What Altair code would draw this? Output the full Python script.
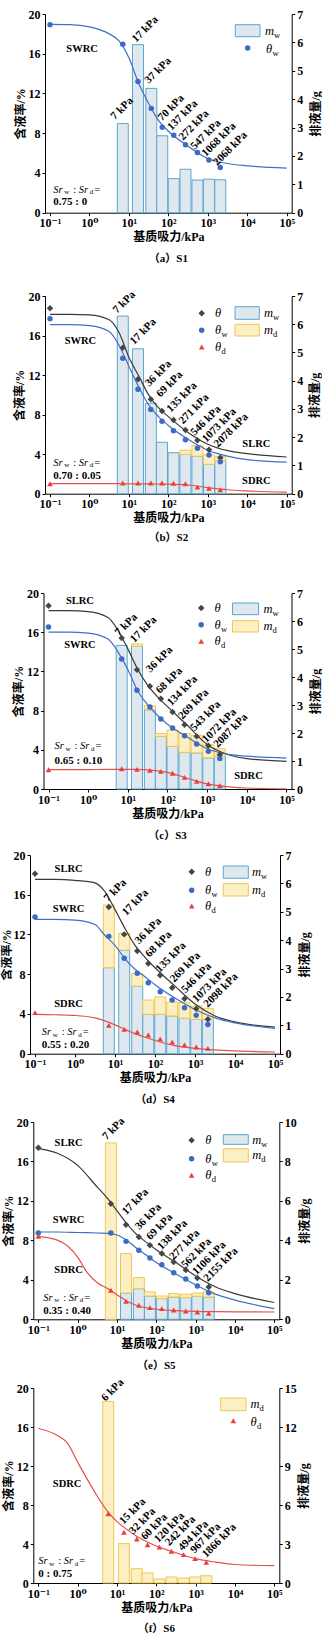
import altair as alt
import pandas as pd

SERIF = "Liberation Serif, DejaVu Serif, Noto Sans CJK SC"

C_THETA = "#454545"
C_W = "#3a6cc6"
C_D = "#e8403b"
CC_THETA = "#3a3a3a"
CC_W = "#3f70c4"
CC_D = "#e5504c"
W_FILL, W_STROKE = "#dfe8ee", "#5aa7d0"
D_FILL, D_STROKE = "#fcefc4", "#efc851"

X_TICKS = [0.1, 1, 10, 100, 1000, 10000, 100000]
X_LABEL_EXPR = ("datum.value < 0.5 ? '10⁻¹' : datum.value < 5 ? '10⁰' : datum.value < 50 ? '10¹' : "
                "datum.value < 500 ? '10²' : datum.value < 5000 ? '10³' : datum.value < 50000 ? '10⁴' : '10⁵'")

# ------------------------------------------------------------------ data
CURVE_X = [0.1, 0.316, 1, 3.16, 5.62, 10, 17.8, 31.6, 56.2, 100, 316, 1000, 3160, 10000, 100000]
CURVE_X2 = [0.1, 0.316, 0.562, 1, 1.78, 3.16, 5.62, 10, 17.8, 31.6, 100, 316, 1000, 3160, 10000, 100000]

# (a) S1
s1_x = [0.1, 7, 17, 37, 70, 137, 272, 547, 1068, 2068]
s1_theta_w = [18.93, 16.95, 13.2, 10.5, 8.6, 7.8, 6.85, 6.07, 5.3, 4.56]
s1_bar_x = [7, 17, 37, 70, 137, 272, 547, 1068, 2068]
s1_m_w = [3.14, 5.92, 4.38, 2.71, 1.20, 1.53, 1.15, 1.18, 1.16]
s1_m_d = [0, 0, 0, 0, 0, 0, 0, 0, 0]
s1_lab_t = ["7 kPa", "17 kPa", "37 kPa", "70 kPa", "137 kPa", "272 kPa", "547 kPa", "1068 kPa", "2068 kPa"]
s1_lab_x = [4.4, 15.2, 32, 69, 120, 234, 468, 890, 1740]
s1_lab_y = [9.33, 17.1, 12.95, 9.2, 8.25, 7.25, 6.3, 5.6, 4.7]
s1_swrc = [18.95, 18.93, 18.7, 18.0, 17.3, 15.6, 13.0, 11.0, 9.3, 8.2, 6.7, 5.45, 4.95, 4.72, 4.48]

# (b) S2
s2_x = [0.1, 7, 17, 36, 69, 135, 271, 546, 1073, 2078]
s2_theta = [18.75, 14.77, 11.57, 9.55, 8.36, 7.45, 6.44, 5.40, 4.45, 3.64]
s2_theta_w = [17.7, 13.7, 10.56, 8.53, 7.32, 6.37, 5.46, 4.59, 3.91, 3.24]
s2_theta_d = [1.0, 1.08, 1.08, 1.08, 1.08, 1.05, 1.0, 0.67, 0.54, 0.40]
s2_bar_x = [7, 17, 36, 69, 135, 271, 546, 1073, 2078]
s2_m_w = [6.29, 5.13, 3.20, 1.82, 1.45, 1.39, 1.33, 1.04, 1.18]
s2_m_d = [0, 0, 0, 0, 0, 0.15, 0.38, 0.33, 0.14]
s2_lab_t = ["7 kPa", "17 kPa", "36 kPa", "69 kPa", "135 kPa", "271 kPa", "546 kPa", "1073 kPa", "2078 kPa"]
s2_lab_x = [5.0, 13.5, 32.7, 63, 115, 234, 468, 910, 1820]
s2_lab_y = [18.2, 15.04, 10.79, 9.71, 8.2, 7.0, 5.83, 5.16, 4.65]
s2_slrc = [18.15, 18.15, 18.1, 17.6, 16.3, 13.8, 11.9, 10.0, 8.7, 7.8, 6.2, 5.0, 4.35, 4.05, 3.71]
s2_swrc = [17.1, 17.1, 17.0, 16.4, 15.0, 12.9, 10.8, 9.0, 7.8, 6.9, 5.5, 4.4, 3.8, 3.45, 3.2]
s2_sdrc = [1.02, 1.02, 1.02, 1.02, 1.01, 1.0, 1.0, 0.99, 0.98, 0.97, 0.88, 0.62, 0.4, 0.28, 0.15]

# (c) S3
s3_x = [0.1, 7, 17, 36, 68, 134, 269, 543, 1072, 2087]
s3_theta = [18.7, 15.4, 12.18, 10.48, 9.22, 7.86, 6.56, 5.37, 4.42, 3.50]
s3_theta_w = [16.53, 13.27, 10.07, 8.37, 7.14, 6.22, 5.44, 4.59, 3.84, 3.10]
s3_theta_d = [1.97, 2.07, 2.0, 1.9, 1.8, 1.6, 1.19, 0.78, 0.54, 0.34]
s3_bar_x = [7, 17, 36, 68, 134, 269, 543, 1072, 2087]
s3_m_w = [5.13, 5.10, 2.83, 1.88, 1.52, 1.31, 1.29, 1.11, 1.17]
s3_m_d = [0, 0.08, 0.15, 0.10, 0.58, 0.67, 0.63, 0.47, 0.27]
s3_lab_t = ["7 kPa", "17 kPa", "36 kPa", "68 kPa", "134 kPa", "269 kPa", "543 kPa", "1072 kPa", "2087 kPa"]
s3_lab_x = [6.0, 14.6, 37, 65, 124, 238, 482, 955, 1840]
s3_lab_y = [15.58, 14.9, 11.84, 9.69, 8.44, 7.07, 5.88, 4.69, 4.18]
s3_slrc = [18.2, 18.2, 18.1, 17.5, 16.2, 14.3, 12.2, 10.6, 9.4, 8.4, 6.5, 4.55, 3.55, 3.1, 2.82]
s3_swrc = [16.0, 16.0, 15.9, 15.3, 14.0, 12.2, 10.0, 8.6, 7.5, 6.6, 5.3, 4.1, 3.55, 3.35, 3.15]
s3_sdrc = [1.97, 1.97, 1.98, 2.0, 2.0, 2.0, 2.0, 1.95, 1.85, 1.7, 1.1, 0.52, 0.25, 0.1, 0.02]

# (d) S4
s4_x = [0.1, 7, 17, 36, 68, 135, 269, 546, 1073, 2098]
s4_theta = [18.12, 14.77, 12.01, 10.34, 9.09, 7.89, 6.64, 5.54, 4.53, 3.46]
s4_theta_w = [13.76, 11.81, 9.6, 8.09, 7.15, 6.24, 5.40, 4.63, 3.86, 2.95]
s4_theta_d = [4.13, 2.85, 2.45, 2.18, 1.88, 1.48, 1.17, 0.87, 0.67, 0.54]
s4_bar_x = [7, 17, 36, 68, 135, 269, 546, 1073, 2098]
s4_m_w = [3.03, 3.65, 2.38, 1.39, 1.39, 1.33, 1.25, 1.21, 1.21]
s4_m_d = [2.21, 0.59, 0.45, 0.50, 0.61, 0.49, 0.55, 0.47, 0.39]
s4_lab_t = ["7 kPa", "17 kPa", "36 kPa", "68 kPa", "135 kPa", "269 kPa", "546 kPa", "1073 kPa", "2098 kPa"]
s4_lab_x = [6.7, 19, 40, 73, 132, 302, 575, 1096, 2090]
s4_lab_y = [15.27, 13.86, 11.0, 9.66, 8.15, 7.15, 6.07, 5.13, 4.63]
s4_slrc = [17.55, 17.55, 17.45, 17.2, 16.3, 14.5, 12.6, 10.9, 9.7, 8.65, 6.8, 5.0, 3.8, 3.2, 2.68]
s4_swrc = [13.52, 13.52, 13.45, 13.0, 11.9, 10.9, 9.55, 8.5, 7.75, 6.95, 5.6, 4.45, 3.6, 3.1, 2.55]
s4_sdrc = [3.95, 3.92, 3.85, 3.6, 3.3, 2.9, 2.45, 2.02, 1.65, 1.33, 0.82, 0.54, 0.38, 0.28, 0.17]

# (e) S5
s5_x = [0.1, 7, 17, 36, 69, 138, 277, 562, 1106, 2155]
s5_theta = [17.4, 11.72, 9.59, 8.34, 7.5, 6.66, 5.81, 5.0, 4.19, 3.28]
s5_theta_w = [8.75, 8.75, 7.9, 6.99, 6.22, 5.54, 4.73, 4.09, 3.38, 2.70]
s5_theta_d = [8.41, 2.94, 1.82, 1.42, 1.18, 1.08, 0.95, 0.84, 0.74, 0.61]
s5_bar_x = [7, 17, 36, 69, 138, 277, 562, 1106, 2155]
s5_m_w = [0, 1.33, 1.55, 1.18, 1.05, 1.13, 1.10, 1.17, 1.13]
s5_m_d = [8.94, 2.0, 0.56, 0.21, 0.13, 0.17, 0.17, 0.16, 0.26]
s5_lab_t = ["7 kPa", "17 kPa", "36 kPa", "69 kPa", "138 kPa", "277 kPa", "562 kPa", "1106 kPa", "2155 kPa"]
s5_lab_x = [5.4, 17.2, 36.6, 71, 135, 275, 550, 1050, 2040]
s5_lab_y = [18.14, 10.54, 9.02, 8.0, 6.99, 5.98, 5.14, 4.46, 3.78]
s5_slrc = [17.3, 16.8, 15.6, 13.4, 12.3, 11.0, 9.7, 8.6, 7.8, 7.05, 5.75, 4.4, 3.3, 2.6, 1.7]
s5_swrc = [8.85, 8.85, 8.8, 8.75, 8.72, 8.55, 8.0, 7.2, 6.5, 5.75, 4.6, 3.5, 2.55, 1.95, 1.08]
s5_sdrc = [8.41, 8.0, 7.4, 6.3, 4.7, 3.7, 3.15, 2.5, 1.85, 1.4, 1.02, 0.88, 0.8, 0.77, 0.76, 0.74]

# (f) S6
s6_x = [6, 15, 32, 60, 120, 242, 494, 967, 1866]
s6_theta_d = [7.11, 5.2, 4.51, 3.93, 3.69, 3.25, 2.91, 2.50, 2.12]
s6_bar_x = [6, 15, 32, 60, 120, 242, 494, 967, 1866]
s6_m_w = [0, 0, 0, 0, 0, 0, 0, 0, 0]
s6_m_d = [13.97, 3.03, 1.10, 0.77, 0.31, 0.46, 0.38, 0.46, 0.56]
s6_lab_t = ["6 kPa", "15 kPa", "32 kPa", "60 kPa", "120 kPa", "242 kPa", "494 kPa", "967 kPa", "1866 kPa"]
s6_lab_x = [5.1, 14.6, 26, 52, 112, 214, 456, 935, 1860]
s6_lab_y = [18.6, 5.98, 4.96, 4.38, 4.10, 3.76, 3.25, 3.01, 2.56]
s6_sdrc = [15.85, 15.1, 14.3, 12.4, 10.6, 8.9, 7.4, 6.3, 5.5, 4.8, 3.8, 3.1, 2.5, 2.15, 1.9, 1.78]

ONE = pd.DataFrame({"a": [0]})
ORIGIN = 45  # page x of every panel's group origin


# ------------------------------------------------------------------ helpers
def vtext(x, y, s, size=11, weight="normal", style="normal", align="left", baseline="middle", color="black"):
    return alt.Chart(ONE).mark_text(text=s, fontSize=size, fontWeight=weight, fontStyle=style, align=align,
                                    baseline=baseline, color=color, font=SERIF).encode(
        x=alt.value(x), y=alt.value(y))


def sub_text(x, y, main, sub, size=12.5, subsize=8.5, main_w=6.5):
    return [vtext(x, y, main, size=size, style="italic"),
            vtext(x + main_w, y + 4, sub, size=subsize)]


def leg_sym(x, y, shape, color, size):
    return alt.Chart(ONE).mark_point(shape=shape, filled=True, size=size, color=color, opacity=1).encode(
        x=alt.value(x), y=alt.value(y))


def leg_rect(x1, x2, y1, y2, fill, stroke):
    return alt.Chart(ONE).mark_rect(fill=fill, stroke=stroke, strokeWidth=1).encode(
        x=alt.value(x1), x2=alt.value(x2), y=alt.value(y1), y2=alt.value(y2))


SYM_SIZE = {"circle": 30, "diamond": 42, "triangle-up": 32}


def sr_block(x0, y1, y2, ratio):
    return [vtext(x0, y1, "Sr", size=10.5, style="italic"),
            vtext(x0 + 11, y1 + 2.5, "w", size=7),
            vtext(x0 + 21.5, y1, ":", size=10.5, align="center"),
            vtext(x0 + 25.5, y1, "Sr", size=10.5, style="italic"),
            vtext(x0 + 36.5, y1 + 2.5, "d", size=7),
            vtext(x0 + 41, y1, "=", size=10.5),
            vtext(x0, y2, ratio, size=11, weight="bold")]


def legend_full(sx, sy, tx, rx1, rx2, ry, rtx):
    out = [leg_sym(sx, sy[0], "diamond", C_THETA, 42), vtext(tx, sy[0], "θ", size=12.5, style="italic"),
           leg_sym(sx, sy[1], "circle", C_W, 30)] + sub_text(tx, sy[1], "θ", "w") + [
        leg_sym(sx, sy[2], "triangle-up", C_D, 32)] + sub_text(tx, sy[2], "θ", "d")
    out += [leg_rect(rx1, rx2, ry[0][0], ry[0][1], W_FILL, W_STROKE)]
    out += sub_text(rtx, (ry[0][0] + ry[0][1]) / 2, "m", "w", main_w=9)
    out += [leg_rect(rx1, rx2, ry[1][0], ry[1][1], D_FILL, D_STROKE)]
    out += sub_text(rtx, (ry[1][0] + ry[1][1]) / 2, "m", "d", main_w=9)
    return out


def build_panel(p):
    s = ORIGIN - p["L"]          # how far this panel sits left of the common origin
    Wp, H = p["W"], p["H"]
    W = Wp - s
    xs = alt.Scale(type="log", domain=[0.1, 100000], range=[-s, W])
    xax = alt.Axis(values=X_TICKS, labelExpr=X_LABEL_EXPR, title="基质吸力/kPa", titlePadding=3,
                   tickSize=3, labelPadding=2, grid=False, labelFlush=False, labelOverlap=False)
    X = alt.X("x:Q", scale=xs, axis=xax)
    ys = alt.Scale(domain=[0, 20], nice=False)
    yax = alt.Axis(values=[0, 4, 8, 12, 16, 20], title="含液率/%", titlePadding=p["ltp"], tickSize=3,
                   labelPadding=2, grid=False, labelFlush=False, offset=s)
    Y = alt.Y("y:Q", scale=ys, axis=yax)
    rs = alt.Scale(domain=[0, p["rmax"]], nice=False)
    rax = alt.Axis(orient="right", values=p["rticks"], title="排液量/g", titleAngle=270, titleBaseline="top",
                   titlePadding=p["rtp"], tickSize=3, labelPadding=2, grid=False, labelFlush=False)

    bx, mw, md = p["bars"]
    right = []
    dw = pd.DataFrame({"x": bx, "y0": [0] * len(bx), "y1": mw})
    dw = dw[dw["y1"] > 0]
    if len(dw):
        right.append(alt.Chart(dw).mark_bar(size=11, fill=W_FILL, stroke=W_STROKE, strokeWidth=1).encode(
            x=X, y=alt.Y("y0:Q", scale=rs, axis=rax), y2="y1:Q"))
    dd = pd.DataFrame({"x": bx, "y0": mw, "y1": [a + b for a, b in zip(mw, md)], "m": md})
    dd = dd[dd["m"] > 0]
    if len(dd):
        right.append(alt.Chart(dd).mark_bar(size=11, fill=D_FILL, stroke=D_STROKE, strokeWidth=1).encode(
            x=X, y=alt.Y("y0:Q", scale=rs, axis=rax), y2="y1:Q"))

    left = []
    for cx, cy, col in p["curves"]:
        left.append(alt.Chart(pd.DataFrame({"x": cx, "y": cy})).mark_line(
            color=col, strokeWidth=1.2, interpolate="monotone").encode(x=X, y=Y))
    for px, py, shape, col in p["points"]:
        left.append(alt.Chart(pd.DataFrame({"x": px, "y": py})).mark_point(
            shape=shape, filled=True, size=SYM_SIZE[shape], color=col, opacity=1).encode(x=X, y=Y))
    lt, lx, ly = p["labels"]
    left.append(alt.Chart(pd.DataFrame({"x": lx, "y": ly, "t": lt})).mark_text(
        angle=315, align="left", baseline="alphabetic", fontSize=11, fontWeight="bold", font=SERIF,
        color="black").encode(x=X, y=Y, text="t:N"))
    nt, nx, ny = p["names"]
    left.append(alt.Chart(pd.DataFrame({"x": nx, "y": ny, "t": nt})).mark_text(
        align="center", baseline="middle", fontSize=10.5, fontWeight="bold", font=SERIF,
        color="black").encode(x=X, y=Y, text="t:N"))
    x0, y1, y2, ratio = p["sr"]
    left += sr_block(x0 - s, y1, y2, ratio)
    left += p["legend"](-s)
    left.append(vtext(Wp / 2 - s, H + p["cap"], p["caption"], size=11, weight="bold", align="center"))
    # white spacer that fixes the panel's outer bounds
    left.append(alt.Chart(ONE).mark_rule(color="white", strokeWidth=1).encode(
        x=alt.value(-ORIGIN + 0.5), x2=alt.value(-ORIGIN + 1), y=alt.value(-p["T"] + 0.5),
        y2=alt.value(p["B"] - 0.5)))

    return alt.layer(alt.layer(*right), alt.layer(*left)).resolve_scale(y="independent").properties(
        width=W, height=H)


panels = []

panels.append(build_panel(dict(
    W=246.7, H=198.7, L=45, T=13.3, B=261.7, cap=46, caption="（a）S1", rmax=7, rticks=list(range(8)),
    ltp=1, rtp=8,
    bars=(s1_bar_x, s1_m_w, s1_m_d),
    curves=[(CURVE_X, s1_swrc, CC_W)],
    points=[(s1_x, s1_theta_w, "circle", C_W)],
    labels=(s1_lab_t, s1_lab_x, s1_lab_y),
    names=(["SWRC"], [0.65], [16.5]),
    sr=(8.3, 175.5, 188, "0.75 : 0"),
    legend=lambda d: [leg_rect(190.3 + d, 215 + d, 10.7, 22.7, W_FILL, W_STROKE)]
    + sub_text(220 + d, 16.7, "m", "w", main_w=9)
    + [leg_sym(202.7 + d, 34, "circle", C_W, 30)] + sub_text(221 + d, 35, "θ", "w"),
)))

panels.append(build_panel(dict(
    W=246.7, H=197.7, L=45, T=20, B=265, cap=44.3, caption="（b）S2", rmax=7, rticks=list(range(8)),
    ltp=1.8, rtp=6.5,
    bars=(s2_bar_x, s2_m_w, s2_m_d),
    curves=[(CURVE_X, s2_slrc, CC_THETA), (CURVE_X, s2_swrc, CC_W), (CURVE_X, s2_sdrc, CC_D)],
    points=[(s2_x, s2_theta, "diamond", C_THETA), (s2_x, s2_theta_w, "circle", C_W),
            (s2_x, s2_theta_d, "triangle-up", C_D)],
    labels=(s2_lab_t, s2_lab_x, s2_lab_y),
    names=(["SWRC", "SLRC", "SDRC"], [0.59, 17000, 17000], [15.45, 4.99, 1.28]),
    sr=(8.3, 166.5, 179.5, "0.70 : 0.05"),
    legend=lambda d: legend_full(156.7 + d, [17.3, 34.3, 51], 170 + d, 190 + d, 214.3 + d,
                                 [(10.7, 23.3), (28.3, 40)], 219 + d),
)))

panels.append(build_panel(dict(
    W=248, H=196, L=43.5, T=31.7, B=251.3, cap=47.3, caption="（c）S3", rmax=7, rticks=list(range(8)),
    ltp=1, rtp=8,
    bars=(s3_bar_x, s3_m_w, s3_m_d),
    curves=[(CURVE_X, s3_slrc, CC_THETA), (CURVE_X, s3_swrc, CC_W), (CURVE_X, s3_sdrc, CC_D)],
    points=[(s3_x, s3_theta, "diamond", C_THETA), (s3_x, s3_theta_w, "circle", C_W),
            (s3_x, s3_theta_d, "triangle-up", C_D)],
    labels=(s3_lab_t, s3_lab_x, s3_lab_y),
    names=(["SLRC", "SWRC", "SDRC"], [0.62, 0.62, 11000], [19.15, 14.73, 1.29]),
    sr=(11, 153.3, 167.7, "0.65 : 0.10"),
    legend=lambda d: legend_full(157.7 + d, [15, 31.7, 48.3], 171 + d, 189 + d, 215 + d,
                                 [(10, 21.7), (27.7, 39)], 220 + d),
)))

panels.append(build_panel(dict(
    W=250, H=198.7, L=30, T=9.3, B=254.7, cap=46, caption="（d）S4", rmax=7, rticks=list(range(8)),
    ltp=0, rtp=8,
    bars=(s4_bar_x, s4_m_w, s4_m_d),
    curves=[(CURVE_X, s4_slrc, CC_THETA), (CURVE_X, s4_swrc, CC_W), (CURVE_X, s4_sdrc, CC_D)],
    points=[(s4_x, s4_theta, "diamond", C_THETA), (s4_x, s4_theta_w, "circle", C_W),
            (s4_x, s4_theta_d, "triangle-up", C_D)],
    labels=(s4_lab_t, s4_lab_x, s4_lab_y),
    names=(["SLRC", "SWRC", "SDRC"], [0.69, 0.69, 0.69], [18.56, 14.53, 4.97]),
    sr=(11.7, 177.2, 190.2, "0.55 : 0.20"),
    legend=lambda d: legend_full(161.7 + d, [16.7, 35.3, 51], 175 + d, 193.3 + d, 218.3 + d,
                                 [(11, 23.3), (28.7, 41)], 222 + d),
)))

panels.append(build_panel(dict(
    W=246, H=197.3, L=33.3, T=11.3, B=253.7, cap=46.3, caption="（e）S5", rmax=10, rticks=[0, 2, 4, 6, 8, 10],
    ltp=1, rtp=3,
    bars=(s5_bar_x, s5_m_w, s5_m_d),
    curves=[(CURVE_X, s5_slrc, CC_THETA), (CURVE_X, s5_swrc, CC_W), (CURVE_X2, s5_sdrc, CC_D)],
    points=[(s5_x, s5_theta, "diamond", C_THETA), (s5_x, s5_theta_w, "circle", C_W),
            (s5_x, s5_theta_d, "triangle-up", C_D)],
    labels=(s5_lab_t, s5_lab_x, s5_lab_y),
    names=(["SLRC", "SWRC", "SDRC"], [0.59, 0.59, 0.59], [17.87, 10.1, 5.03]),
    sr=(10, 175.5, 188.5, "0.35 : 0.40"),
    legend=lambda d: legend_full(158.3 + d, [18.3, 36.7, 53.3], 172 + d, 190 + d, 215 + d,
                                 [(12.7, 22.3), (26.7, 40)], 219 + d),
)))

panels.append(build_panel(dict(
    W=246, H=195, L=33.3, T=9.7, B=258.3, cap=46.3, caption="（f）S6", rmax=15, rticks=[0, 3, 6, 9, 12, 15],
    ltp=1, rtp=2,
    bars=(s6_bar_x, s6_m_w, s6_m_d),
    curves=[(CURVE_X2, s6_sdrc, CC_D)],
    points=[(s6_x, s6_theta_d, "triangle-up", C_D)],
    labels=(s6_lab_t, s6_lab_x, s6_lab_y),
    names=(["SDRC"], [0.54], [10.15]),
    sr=(5, 173, 186, "0 : 0.75"),
    legend=lambda d: [leg_rect(187.3 + d, 212.7 + d, 10, 22.7, D_FILL, D_STROKE)]
    + sub_text(217.3 + d, 16.3, "m", "d", main_w=9)
    + [leg_sym(200 + d, 32.7, "triangle-up", C_D, 32)] + sub_text(217.3 + d, 34, "θ", "d"),
)))

chart = alt.vconcat(*panels, spacing=0).properties(padding=0).configure_view(
    stroke=None).configure_axis(
    domainColor="black", tickColor="black", domainWidth=1, tickWidth=1,
    labelFont=SERIF, labelFontSize=12, labelFontWeight="bold", labelColor="black",
    titleFont=SERIF, titleFontSize=12, titleFontWeight="bold", titleColor="black")

chart.save("out.html", embed_options={"renderer": "svg", "actions": False})
